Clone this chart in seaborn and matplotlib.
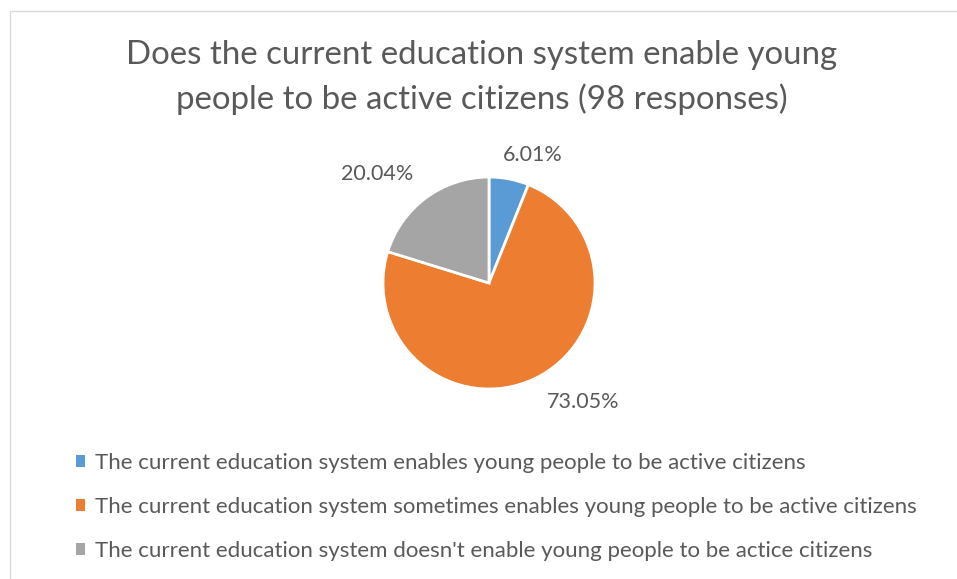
import matplotlib
matplotlib.use("Agg")
import matplotlib.pyplot as plt
from matplotlib.patches import Patch, Rectangle
import numpy as np
import seaborn as sns

# Survey answers and their shares (percent of 98 responses)
answers = [
    "The current education system enables young people to be active citizens",
    "The current education system sometimes enables young people to be active citizens",
    "The current education system doesn't enable young people to be actice citizens",
]
shares = [6.01, 73.05, 20.04]
title = "Does the current education system enable young\npeople to be active citizens (98 responses)"

sns.set_theme(style="white")
plt.rcParams["font.family"] = ["Lato", "DejaVu Sans"]
text_color = "#595959"
palette = sns.color_palette(["#5B9BD5", "#ED7D31", "#A5A5A5"])

W, H = 957, 579
fig = plt.figure(figsize=(W / 100, H / 100), dpi=100)
fig.patch.set_facecolor("white")

# Light chart-area frame
fig.patches.append(Rectangle((10 / W, -0.2), 1.2, 1.2 - 11 / H,
                             transform=fig.transFigure, fill=False,
                             edgecolor="#d9d9d9", linewidth=1.0, zorder=0))

# Pie axes: centre (489, 283) px, radius 106 px
cx, cy, r = 489, 283, 106
ax = fig.add_axes([(cx - r) / W, (H - cy - r) / H, 2 * r / W, 2 * r / H])
wedges, _ = ax.pie(shares, colors=palette, startangle=90, counterclock=False,
                   wedgeprops=dict(edgecolor="white", linewidth=2.0))
ax.set_xlim(-1, 1)
ax.set_ylim(-1, 1)
ax.axis("off")

# Mid-angle of every slice (clockwise from 12 o'clock)
frac = np.asarray(shares) / np.sum(shares)
ends = np.cumsum(frac)
mids = np.deg2rad(90 - 360 * (ends - frac / 2))

# Percentage labels placed outside each slice (offsets in points)
offsets = [(17, 17), (35, -17), (-35, 17)]
for ang, val, off in zip(mids, shares, offsets):
    ax.annotate(f"{val:.2f}%", xy=(np.cos(ang), np.sin(ang)), xytext=off,
                textcoords="offset points", ha="center", va="center",
                fontsize=15.5, color=text_color, annotation_clip=False)

fig.text(482 / W, 1 - 40 / H, title, ha="center", va="top",
         fontsize=23.8, color=text_color, linespacing=1.52)

handles = [Patch(facecolor=c, edgecolor="none") for c in palette]
fig.legend(handles, answers, loc="upper left",
           bbox_to_anchor=(76 / W, 1 - 453 / H), frameon=False,
           fontsize=16, labelcolor=text_color, handlelength=0.42,
           handleheight=0.42, handletextpad=0.45, labelspacing=1.08,
           borderpad=0, borderaxespad=0)

fig.savefig("out.png", dpi=100)
